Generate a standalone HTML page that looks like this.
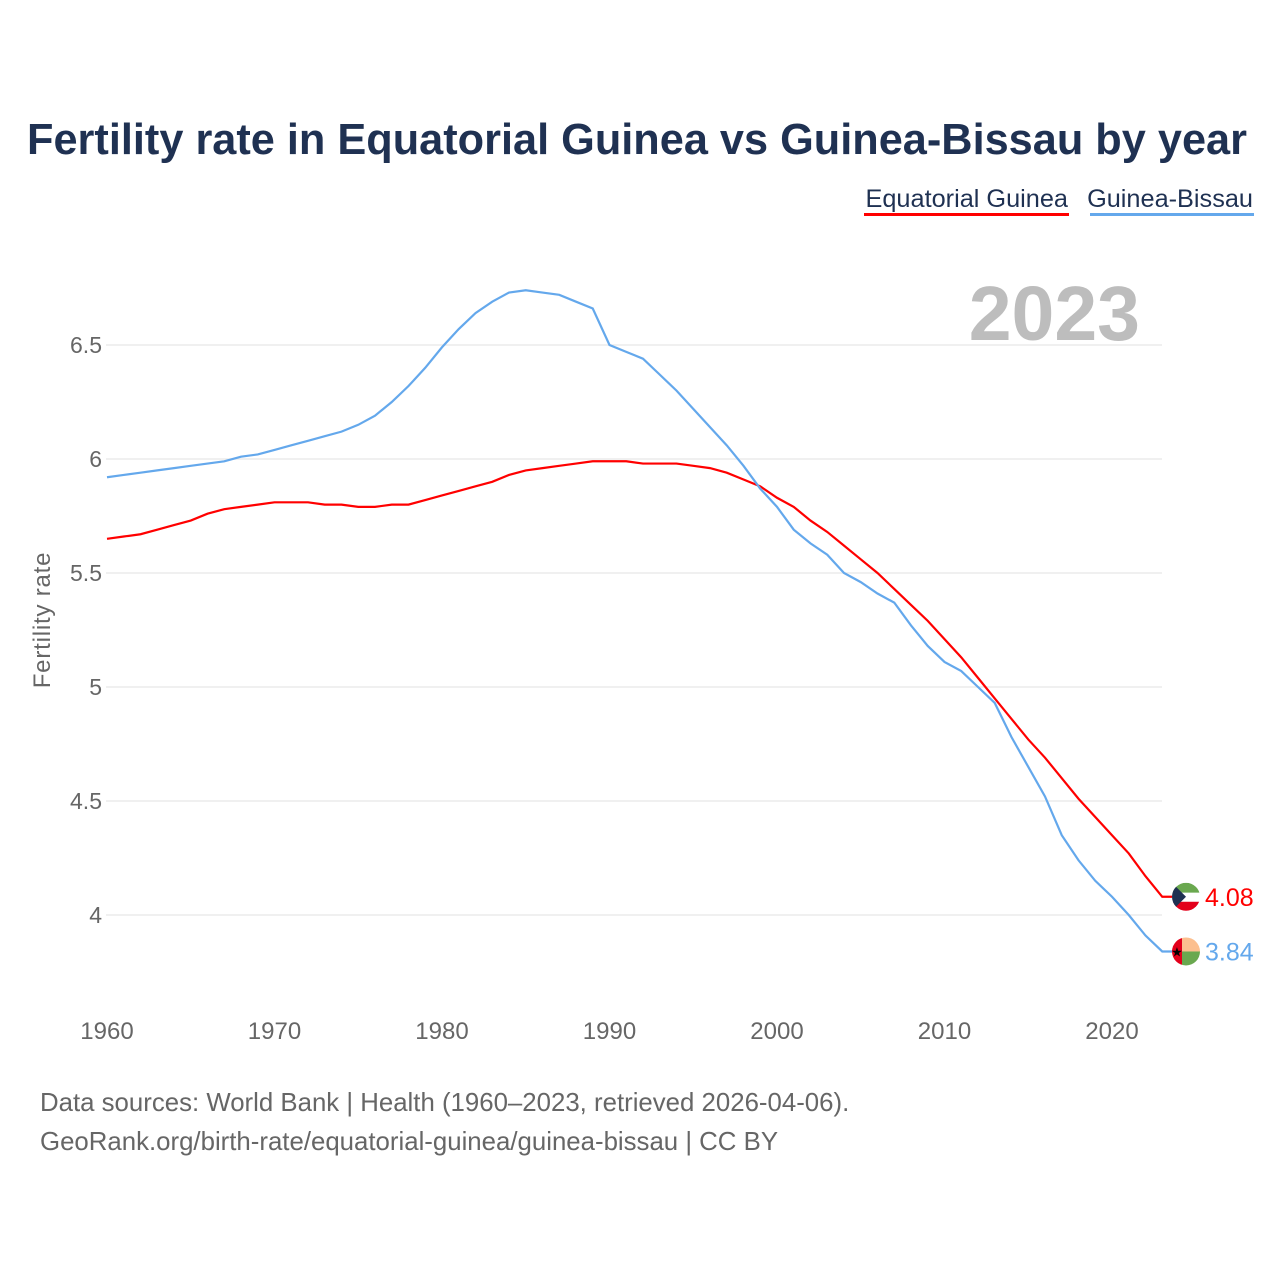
<!DOCTYPE html>
<html><head><meta charset="utf-8"><style>
body{margin:0;background:#fff;width:1280px;height:1280px;overflow:hidden;font-family:"Liberation Sans",sans-serif}
svg text{font-family:"Liberation Sans",sans-serif}
</style></head><body>
<svg id="chart" width="1280" height="1280">
<text x="637" y="154" text-anchor="middle" font-size="43.3" font-weight="bold" fill="#1f3152">Fertility rate in Equatorial Guinea vs Guinea-Bissau by year</text>
<g>
<text x="1068" y="207" text-anchor="end" font-size="25.3" fill="#1f3152">Equatorial Guinea</text>
<rect x="864" y="213" width="205" height="3" fill="#ff0000"/></g>
<g>
<text x="1253" y="207" text-anchor="end" font-size="25.3" fill="#1f3152">Guinea-Bissau</text>
<rect x="1090" y="213" width="164" height="3" fill="#64a8ec"/></g>
<text x="1140" y="340" text-anchor="end" font-size="77" font-weight="bold" fill="#bdbdbd">2023</text>
<text transform="translate(50,620) rotate(-90)" text-anchor="middle" font-size="24" letter-spacing="0.8" fill="#666">Fertility rate</text>
<g id="grid"></g><g id="xt"></g><g id="lines"></g>
<g id="flagEG"></g>
<g id="flagGB"></g>
<text x="40" y="1111" font-size="25.8" fill="#666">Data sources: World Bank | Health (1960–2023, retrieved 2026-04-06).</text>
<text x="40" y="1150" font-size="25.8" fill="#666">GeoRank.org/birth-rate/equatorial-guinea/guinea-bissau | CC BY</text>
</svg>
<script>
const years=[];for(let y=1960;y<=2023;y++)years.push(y);
const equatorialGuinea=[5.65,5.66,5.67,5.69,5.71,5.73,5.76,5.78,5.79,5.80,5.81,5.81,5.81,5.80,5.80,5.79,5.79,5.80,5.80,5.82,5.84,5.86,5.88,5.90,5.93,5.95,5.96,5.97,5.98,5.99,5.99,5.99,5.98,5.98,5.98,5.97,5.96,5.94,5.91,5.88,5.83,5.79,5.73,5.68,5.62,5.56,5.50,5.43,5.36,5.29,5.21,5.13,5.04,4.95,4.86,4.77,4.69,4.60,4.51,4.43,4.35,4.27,4.17,4.08];
const guineaBissau=[5.92,5.93,5.94,5.95,5.96,5.97,5.98,5.99,6.01,6.02,6.04,6.06,6.08,6.10,6.12,6.15,6.19,6.25,6.32,6.40,6.49,6.57,6.64,6.69,6.73,6.74,6.73,6.72,6.69,6.66,6.50,6.47,6.44,6.37,6.30,6.22,6.14,6.06,5.97,5.87,5.79,5.69,5.63,5.58,5.50,5.46,5.41,5.37,5.27,5.18,5.11,5.07,5.00,4.93,4.78,4.65,4.52,4.35,4.24,4.15,4.08,4.00,3.91,3.84];
const yTicks=[4,4.5,5,5.5,6,6.5];
const xTicks=[1960,1970,1980,1990,2000,2010,2020];
const NS="http://www.w3.org/2000/svg";
const X=y=>107+(y-1960)*16.75, Y=v=>915-(v-4)*228;
function mk(t,a,p){const e=document.createElementNS(NS,t);for(const k in a)e.setAttribute(k,a[k]);p.appendChild(e);return e;}
const grid=document.getElementById('grid');
yTicks.forEach(v=>{const l=mk('line',{x1:106,x2:1162,y1:Y(v),y2:Y(v),stroke:'#ebebeb','stroke-width':1.5},grid);


const t=mk('text',{x:102,y:Y(v)+8,'text-anchor':'end','font-size':23,fill:'#666'},grid);t.textContent=v;

});
const xt=document.getElementById('xt');
xTicks.forEach(v=>{const t=mk('text',{x:X(v),y:1039,'text-anchor':'middle','font-size':24,fill:'#666'},xt);t.textContent=v;

});
const lines=document.getElementById('lines');
function series(d,c,name){const p=mk('path',{d:d.map((v,i)=>(i?'L':'M')+X(years[i])+','+Y(v)).join(' ')+' H'+(X(2023)+22),fill:'none',stroke:c,'stroke-width':2.2},lines);


const last=d[d.length-1];const t=mk('text',{x:1205,y:Y(last)+9,'font-size':25,fill:c},lines);t.textContent=last.toFixed(2);

}
series(equatorialGuinea,'#ff0000','line-equatorial-guinea');
series(guineaBissau,'#64a8ec','line-guinea-bissau');
const cx=1186;
let g=document.getElementById('flagEG'),cy=Y(equatorialGuinea[63]);
const cp1=mk('clipPath',{id:'c1'},g);mk('circle',{cx:cx,cy:cy,r:14},cp1);
const g1=mk('g',{'clip-path':'url(#c1)'},g);
mk('rect',{x:cx-14,y:cy-14,width:28,height:10,fill:'#6aa84f'},g1);
mk('rect',{x:cx-14,y:cy-4,width:28,height:9,fill:'#fff'},g1);
mk('rect',{x:cx-14,y:cy+5,width:28,height:10,fill:'#e3001b'},g1);
mk('polygon',{points:`${cx-14},${cy-14} ${cx},${cy} ${cx-14},${cy+14}`,fill:'#1f3152'},g1);
g=document.getElementById('flagGB');cy=Y(guineaBissau[63]);
const cp=mk('clipPath',{id:'c2'},g);mk('circle',{cx:cx,cy:cy,r:14},cp);
const g2=mk('g',{'clip-path':'url(#c2)'},g);
mk('rect',{x:cx-14,y:cy-14,width:10,height:28,fill:'#e3001b'},g2);
mk('rect',{x:cx-4,y:cy-14,width:18,height:14,fill:'#fcbf8f'},g2);
mk('rect',{x:cx-4,y:cy,width:18,height:14,fill:'#6aa84f'},g2);
mk('text',{x:cx-9,y:cy+5,'text-anchor':'middle','font-size':13,fill:'#000'},g2).textContent='★';
</script>
</body></html>
